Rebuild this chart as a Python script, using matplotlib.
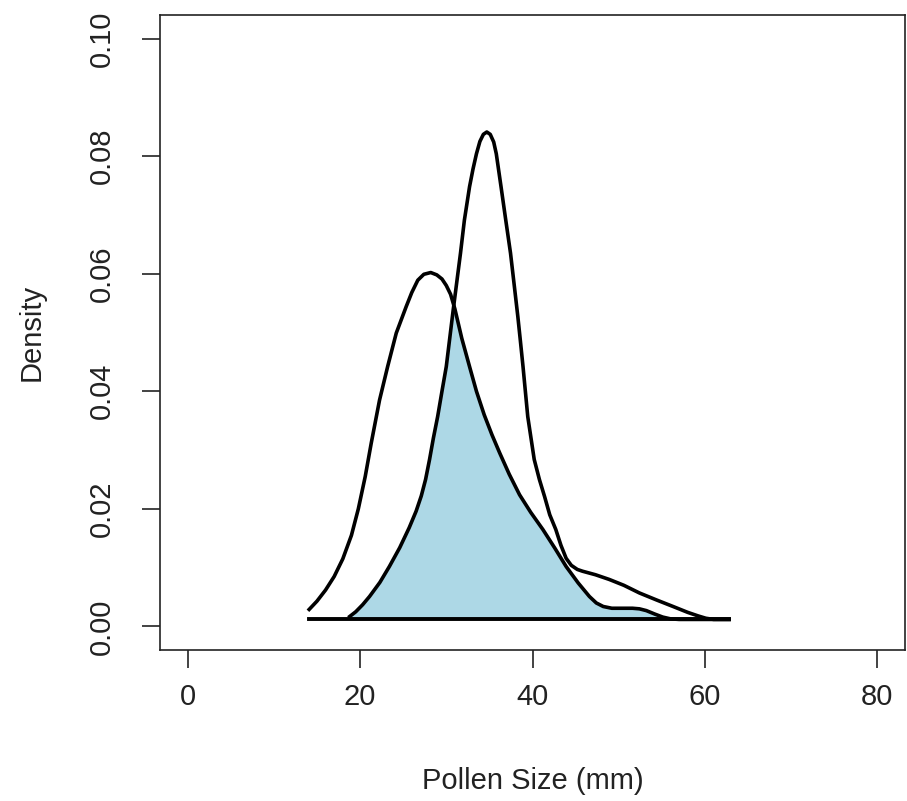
import numpy as np
import matplotlib
matplotlib.use("Agg")
import matplotlib.pyplot as plt

plt.rcParams['font.family'] = ['Liberation Sans', 'DejaVu Sans']

# wide curve (peak ~28)
a_x = [14.1, 15.0, 16.0, 17.0, 18.0, 19.0, 19.8, 20.6, 21.3, 22.26, 23.2, 24.2,
       25.35, 26.0, 26.7, 27.4, 28.2, 28.9, 29.5, 30.0, 30.5, 31.0, 31.8, 32.7,
       33.5, 34.4, 35.3, 36.2, 37.3, 38.5, 39.8, 41.2, 42.6, 43.9, 45.3, 46.6,
       47.4, 48.2, 49.2, 50.5, 51.6, 52.4, 53.2, 54.2, 55.1, 56.0, 57.0, 62.8]
a_y = [0.0029, 0.0043, 0.0062, 0.0085, 0.0115, 0.0155, 0.0200, 0.0255, 0.0312, 0.0385, 0.0442, 0.0499,
       0.0544, 0.0568, 0.0589, 0.0599, 0.0602, 0.0598, 0.0591, 0.0580, 0.0565, 0.0540, 0.0490, 0.0442,
       0.0400, 0.0360, 0.0326, 0.0295, 0.0259, 0.0224, 0.0194, 0.0165, 0.0133, 0.0102, 0.0074, 0.0051,
       0.0040, 0.0034, 0.0031, 0.0031, 0.0031, 0.0030, 0.0027, 0.0021, 0.0016, 0.0013, 0.0012, 0.0012]

# narrow curve (peak ~35)
b_x = [18.8, 19.5, 20.3, 21.1, 22.3, 23.4, 24.6, 25.7, 26.5, 27.1, 27.6, 28.06,
       28.5, 29.0, 29.5, 30.0, 30.4, 30.8, 31.15, 31.65, 32.1, 32.7, 33.1, 33.5,
       33.9, 34.3, 34.7, 35.1, 35.5, 35.8, 36.35, 36.9, 37.45, 37.9, 38.3, 38.6,
       38.9, 39.45, 40.2, 40.8, 41.4, 42.0, 42.7, 43.3, 43.9, 44.5, 45.2, 45.8,
       47.3, 48.9, 50.6, 52.4, 54.4, 56.3, 58.0, 59.2, 60.1, 61.0, 62.8]
b_y = [0.0017, 0.0025, 0.0037, 0.0051, 0.0075, 0.0102, 0.0134, 0.0168, 0.0196, 0.0222, 0.0250, 0.0284,
       0.0320, 0.0357, 0.0400, 0.0442, 0.0490, 0.0538, 0.0578, 0.0635, 0.0691, 0.0748, 0.0778, 0.0804,
       0.0825, 0.0837, 0.0841, 0.0837, 0.0824, 0.0804, 0.0748, 0.0691, 0.0635, 0.0578, 0.0527, 0.0485,
       0.0442, 0.0357, 0.0284, 0.0250, 0.0221, 0.0190, 0.0165, 0.0138, 0.0116, 0.0104, 0.0097, 0.0094,
       0.0088, 0.0080, 0.0070, 0.0057, 0.0045, 0.0034, 0.0024, 0.0018, 0.0014, 0.0012, 0.0012]

base_y = 0.0012

fig = plt.figure(figsize=(9.07, 8.01), dpi=100)
ax = fig.add_axes([160/907, 1 - 650/801, (905-160)/907, (650-15)/801])

# overlap area
grid = np.union1d(a_x, b_x)
grid = grid[(grid >= b_x[0]) & (grid <= a_x[-1])]
lo = np.minimum(np.interp(grid, a_x, a_y), np.interp(grid, b_x, b_y))
ax.fill_between(grid, base_y, lo, color='#ADD8E6', lw=0, zorder=1)

ax.plot(a_x, a_y, color='black', lw=2.6, zorder=3, solid_joinstyle='round')
ax.plot(b_x, b_y, color='black', lw=2.6, zorder=3, solid_joinstyle='round')
ax.plot([a_x[0], a_x[-1]], [base_y, base_y], color='black', lw=2.8, zorder=3)

ax.set_xlim(-3.2, 83.2)
ax.set_ylim(-0.004, 0.104)
ax.set_xticks([0, 20, 40, 60, 80])
ax.set_yticks([0.00, 0.02, 0.04, 0.06, 0.08, 0.10])
ax.set_yticklabels(['0.00', '0.02', '0.04', '0.06', '0.08', '0.10'], rotation=90, va='center')
for s in ax.spines.values():
    s.set_linewidth(1.2)
    s.set_color('#222222')
ax.tick_params(axis='both', length=13, width=1.2, color='#222222', labelsize=21, labelcolor='#222222')
ax.tick_params(axis='x', pad=11)
ax.tick_params(axis='y', pad=19)

ax.set_xlabel('Pollen Size (mm)', fontsize=21, color='#222222', labelpad=40)
ax.set_ylabel('Density', fontsize=21, color='#222222', labelpad=30)

fig.savefig('out.png', dpi=100)
